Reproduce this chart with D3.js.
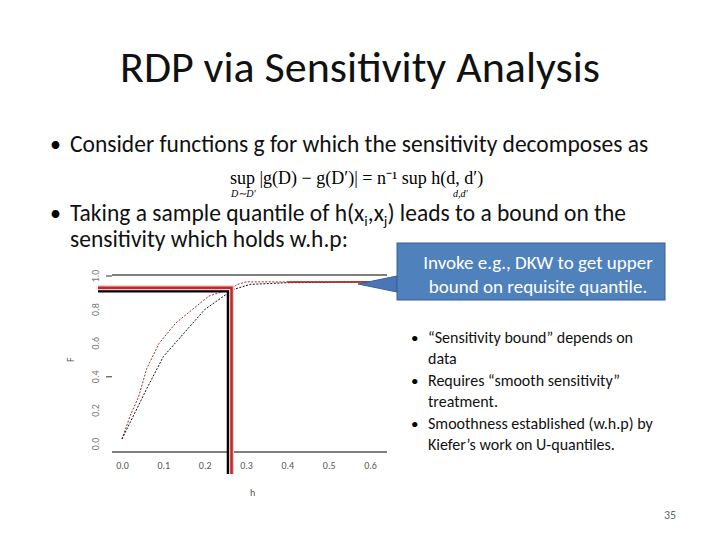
<!DOCTYPE html>
<html><head><meta charset="utf-8">
<script src="https://cdn.jsdelivr.net/npm/d3@7"></script>
<style>body{margin:0;background:#fff}svg text{font-family:Calibri,Carlito,"Liberation Sans",sans-serif}</style>
</head><body>
<svg id="s" width="720" height="540"></svg>
<script>
// data
const redCurve = [[0,0.03],[0.02,0.17],[0.04,0.28],[0.06,0.45],[0.09,0.6],[0.13,0.72],[0.16,0.78],[0.21,0.88],[0.26,0.92],[0.28,0.95],[0.3,0.965],[0.6,0.965]];
const blackCurve = [[0,0.03],[0.03,0.18],[0.06,0.33],[0.1,0.52],[0.15,0.66],[0.2,0.8],[0.24,0.87],[0.27,0.92],[0.31,0.95],[0.4,0.96],[0.6,0.965]];
const xTicks = [0, 0.1, 0.2, 0.3, 0.4, 0.5, 0.6];
const yTicks = [0, 0.2, 0.4, 0.6, 0.8, 1.0];
const quantRed = [0.265, 0.93];
const quantBlack = [0.257, 0.91];

const svg = d3.select("#s");
svg.append("text").attr("x", 360).attr("y", 82).attr("text-anchor", "middle")
  .attr("font-size", 44).attr("fill", "#111").text("RDP via Sensitivity Analysis");

svg.append("text").attr("x", 50).attr("y", 152).attr("font-size", 22).text("•");
svg.append("text").attr("x", 70).attr("y", 152).attr("font-size", 23.5).attr("fill", "#111")
  .text("Consider functions g for which the sensitivity decomposes as");
svg.append("text").attr("x", 230).attr("y", 184).attr("font-size", 18)
  .style("font-family", "'Liberation Serif',serif")
  .text("sup |g(D) − g(D′)| = n⁻¹ sup h(d, d′)");
svg.append("text").attr("x", 231).attr("y", 197).attr("font-size", 10).style("font-family", "'Liberation Serif',serif").attr("font-style", "italic").text("D∼D′");
svg.append("text").attr("x", 453).attr("y", 197).attr("font-size", 10).style("font-family", "'Liberation Serif',serif").attr("font-style", "italic").text("d,d′");

svg.append("text").attr("x", 50).attr("y", 221).attr("font-size", 22).text("•");
const t2 = svg.append("text").attr("x", 70).attr("y", 221).attr("font-size", 23.5).attr("fill", "#111");
t2.append("tspan").text("Taking a sample quantile of h(x");
t2.append("tspan").attr("font-size", 15).attr("dy", 5).text("i");
t2.append("tspan").attr("dy", -5).text(",x");
t2.append("tspan").attr("font-size", 15).attr("dy", 5).text("j");
t2.append("tspan").attr("dy", -5).text(") leads to a bound on the");
svg.append("text").attr("x", 70).attr("y", 247).attr("font-size", 23.5).attr("fill", "#111")
  .text("sensitivity which holds w.h.p:");

// plot
const x = d3.scaleLinear().domain([0, 0.6]).range([122, 370]);
const y = d3.scaleLinear().domain([0, 1]).range([444, 276]);
const g = svg.append("g");
g.append("line").attr("x1", 112).attr("x2", 387).attr("y1", 275).attr("y2", 275).attr("stroke", "#000");
g.append("line").attr("x1", 112).attr("x2", 387).attr("y1", 452).attr("y2", 452).attr("stroke", "#000");
g.append("g").attr("transform", "translate(0,452)")
  .call(d3.axisBottom(x).tickValues(xTicks).tickFormat(d3.format(".1f")).tickSize(0).tickPadding(10))
  .call(a => a.select(".domain").remove())
  .selectAll("text").attr("font-size", 10).attr("fill", "#555");
g.selectAll(".ylab").data(yTicks).join("text").attr("class", "ylab")
  .attr("transform", d => `translate(99,${y(d)}) rotate(-90)`)
  .attr("text-anchor", "middle").attr("font-size", 10).attr("fill", "#777")
  .text(d3.format(".1f"));
[0.4, 1.0].forEach(v => g.append("line").attr("x1", 106).attr("x2", 112).attr("y1", y(v)).attr("y2", y(v)).attr("stroke", "#333"));
g.append("text").attr("x", 250).attr("y", 496).attr("font-size", 10).attr("fill", "#555").text("h");
g.append("text").attr("transform", "translate(74,362) rotate(-90)").attr("font-size", 10).attr("fill", "#555").text("F");

const line = d3.line().x(d => x(d[0])).y(d => y(d[1]));
g.append("path").datum(redCurve).attr("d", line).attr("fill", "none").attr("stroke", "#b22").attr("stroke-width", 1).attr("stroke-dasharray", "2,1.5");
g.append("path").datum(blackCurve).attr("d", line).attr("fill", "none").attr("stroke", "#111").attr("stroke-width", 1).attr("stroke-dasharray", "2,1.5");
g.append("line").attr("x1", x(0.4)).attr("x2", x(0.6)).attr("y1", y(0.965)).attr("y2", y(0.965)).attr("stroke", "#b22").attr("stroke-width", 1.5);

g.append("path").attr("d", `M98,${y(quantBlack[1])}H${x(quantBlack[0])}V474`).attr("fill", "none").attr("stroke", "#000").attr("stroke-width", 3);
g.append("path").attr("d", `M98,${y(quantRed[1])}H${x(quantRed[0])}V474`).attr("fill", "none").attr("stroke", "#f4c4c4").attr("stroke-width", 5);
g.append("path").attr("d", `M98,${y(quantRed[1])}H${x(quantRed[0])}V474`).attr("fill", "none").attr("stroke", "#c0282c").attr("stroke-width", 2.5);

// callout
svg.append("path").attr("d", "M397,276 L358,284 L397,292 Z").attr("fill", "#4a76b8").attr("stroke", "#3a5f95");
svg.append("rect").attr("x", 397).attr("y", 243).attr("width", 268).attr("height", 57).attr("fill", "#4f81bd").attr("stroke", "#3a5f95");
svg.append("text").attr("x", 538).attr("y", 269).attr("text-anchor", "middle").attr("font-size", 19).attr("fill", "#fff").text("Invoke e.g., DKW to get upper");
svg.append("text").attr("x", 538).attr("y", 293).attr("text-anchor", "middle").attr("font-size", 19).attr("fill", "#fff").text("bound on requisite quantile.");

const bullets = [
  ["“Sensitivity bound” depends on", "data"],
  ["Requires “smooth sensitivity”", "treatment."],
  ["Smoothness established (w.h.p) by", "Kiefer’s work on U-quantiles."]
];
bullets.forEach((b, i) => {
  const yy = 343 + i * 43;
  svg.append("text").attr("x", 411).attr("y", yy).attr("font-size", 15).text("•");
  b.forEach((s, j) => svg.append("text").attr("x", 428).attr("y", yy + j * 21).attr("font-size", 16).attr("fill", "#111").text(s));
});
svg.append("text").attr("x", 670).attr("y", 519).attr("text-anchor", "middle").attr("font-size", 12).attr("fill", "#666").text("35");
</script>
</body></html>
